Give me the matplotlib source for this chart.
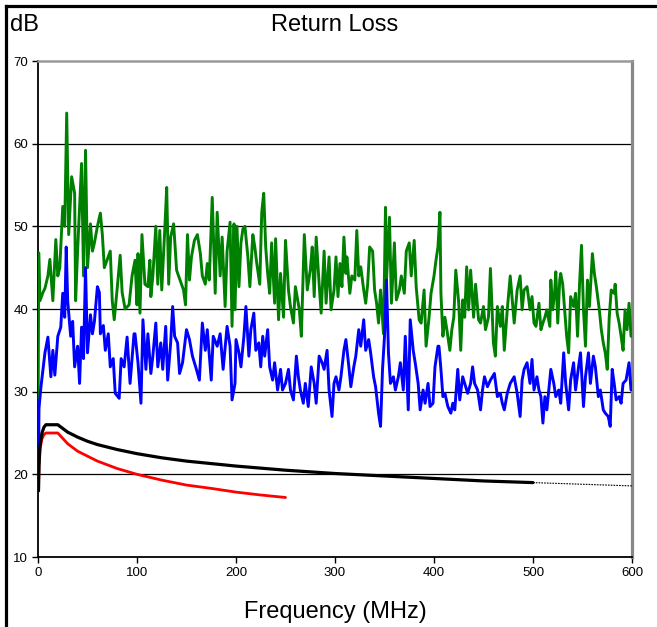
"""Return Loss: dos mediciones ruidosas y dos curvas límite, 0-600 MHz."""

import matplotlib

matplotlib.use("Agg")
import matplotlib.pyplot as plt
from matplotlib.lines import Line2D

plt.rcParams["font.family"] = ["Liberation Sans", "DejaVu Sans"]

# --- medición verde (freq MHz, dB) ---
green_f = [0, 0.7, 2, 5, 7, 10, 12, 15, 18, 20, 22, 25, 27, 29, 31, 34, 37, 38, 40, 44,
           46, 48, 50, 53, 55, 57, 60, 63, 65, 67, 70, 73, 75, 77, 80, 83, 85, 88, 92, 95,
           98, 100, 101, 103, 105, 108, 111, 113, 114, 116, 119, 121, 123, 125, 128, 130,
           132, 134, 137, 140, 142, 145, 147, 149, 151, 153, 155, 158, 161, 164, 166, 169,
           171, 173, 176, 179, 181, 184, 186, 189, 191, 194, 196, 198, 199, 201, 203, 205,
           207, 209, 212, 214, 217, 219, 221, 224, 226, 228, 230, 232, 234, 236, 239, 240,
           243, 245, 248, 250, 253, 255, 258, 260, 264, 266, 269, 272, 275, 277, 279, 281,
           284, 286, 289, 291, 294, 296, 299, 301, 303, 305, 307, 309, 311, 312, 315, 317,
           320, 322, 324, 326, 329, 331, 333, 335, 338, 340, 342, 344, 346, 349, 351, 352,
           355, 357, 360, 362, 365, 367, 370, 372, 375, 377, 380, 382, 385, 387, 390, 392,
           395, 397, 400, 402, 404, 406, 407, 409, 411, 413, 416, 418, 420, 422, 425, 427,
           429, 431, 433, 435, 437, 440, 442, 445, 447, 450, 452, 455, 457, 460, 462, 464,
           467, 469, 471, 474, 477, 479, 481, 484, 487, 489, 491, 494, 497, 499, 501, 503,
           506, 508, 510, 512, 514, 517, 518, 520, 522, 523, 525, 527, 528, 530, 532, 534,
           536, 538, 541, 543, 545, 547, 549, 551, 553, 555, 557, 560, 562, 564, 567, 569,
           571, 573, 575, 577, 579, 582, 583, 585, 587, 589, 591, 593, 595, 597, 599]
green_db = [22, 46.8, 41, 42, 42.5, 44, 46, 41, 48.4, 44, 45, 52.4, 50, 63.7, 49, 56, 54, 41, 47, 57.6,
            44, 59.2, 45, 50.3, 47, 48, 50, 51.6, 49, 45, 46, 47, 41, 38.7, 42.5, 46.5, 42, 40, 40.5, 44,
            45.9, 40.5, 46.7, 39.5, 49, 43, 42.7, 45.9, 41.5, 44, 50, 43, 49.5, 42.3, 49.5, 54.7,
            43, 48.7, 50.3, 44.7, 44, 43, 42.3, 40.5, 49, 43.5, 46.3, 48.3, 49, 46.7, 44, 43,
            45.5, 43.5, 53.5, 41.9, 51.7, 44, 48.7, 40.3, 47, 50.5, 37.9, 50.3, 39.9, 50, 42.7, 48,
            49.7, 50, 46.3, 42.7, 49, 47.5, 45.5, 43, 51.7, 54, 47.5, 44.3, 41.9, 48, 40.7, 48.5,
            38.7, 44.3, 39, 48.3, 42.3, 40.3, 38.3, 42.7, 39.9, 36.7, 49, 42.3, 44.7, 47.5, 41.5, 48.7,
            43, 39.5, 47, 40.7, 46.3, 39.9, 42.3, 46.3, 41.5, 45.5, 42.7, 48.7, 44.3, 46.3, 41.9, 44,
            43.5, 49.5, 44, 45.1, 42.3, 40.7, 43, 47.5, 47, 42.3, 40.7, 38.3, 42.3, 37, 52.3, 43.5,
            51.1, 40.7, 48, 41.1, 42.3, 44, 41.9, 47, 48, 44, 48.3, 42.7, 38.7, 38.3, 42.3, 35.5,
            39, 41.9, 44, 45.9, 47.5, 51.7, 41.9, 36.7, 39, 37.5, 35, 37.5, 39, 44.7, 40.7, 35,
            41.1, 39, 45.1, 39.9, 44.7, 39, 43, 38.7, 38.3, 40.3, 37.5, 39, 44.9, 35.9, 34.3, 40.3,
            37.9, 40.3, 35, 39.9, 44, 41.1, 38.3, 42.3, 44, 39.9, 42.3, 42.7, 39.9, 41.5, 38.3, 37.9,
            40.7, 37.5, 38.3, 39, 39.9, 37.9, 43.5, 39.9, 42.3, 44.5, 38.3, 43.5, 44.3, 43, 39.9, 36.7,
            34.7, 41.5, 40.3, 41.9, 36.7, 43, 47.7, 39.9, 35.5, 43.5, 40.3, 46.7, 44.3, 42.7, 39.9, 37.5,
            35.9, 34.7, 32.7, 39, 42.3, 41.9, 43, 39.5, 38.3, 36.7, 35, 39.9, 37.5, 40.7, 36.7]

# --- medición azul ---
blue_f = [0.5, 1, 3, 7, 10, 13, 15, 17, 20, 23, 25, 27, 28.5, 30, 33, 35, 37, 40, 42, 44,
          46, 48, 50, 53, 55, 57, 60, 62, 63, 66, 68, 71, 73, 76, 78, 82, 84, 87, 90, 93,
          97, 98, 101, 104, 106, 109, 111, 114, 116, 119, 121, 124, 126, 129, 131, 134, 136,
          138, 141, 143, 146, 150, 153, 156, 160, 163, 166, 169, 171, 175, 177, 181, 184, 187,
          191, 194, 196, 199, 200, 203, 205, 208, 210, 213, 215, 218, 220, 223, 225, 227, 229,
          232, 234, 237, 239, 242, 245, 247, 250, 253, 255, 258, 261, 263, 265, 268, 270, 273,
          276, 279, 281, 284, 287, 289, 292, 294, 297, 299, 301, 304, 306, 309, 311, 314, 316,
          319, 321, 324, 326, 329, 331, 334, 336, 339, 341, 344, 346, 348, 350, 352, 354, 356,
          359, 361, 364, 366, 369, 371, 374, 376, 379, 381, 384, 386, 389, 391, 394, 396, 399,
          401, 404, 405, 407, 409, 411, 414, 417, 419, 421, 424, 426, 429, 431, 434, 437, 439,
          441, 444, 447, 449, 451, 454, 457, 459, 461, 464, 467, 469, 471, 474, 477, 479, 481,
          484, 487, 489, 491, 494, 497, 499, 501, 504, 506, 508, 510, 512, 514, 516, 518, 521,
          523, 526, 528, 531, 533, 536, 538, 541, 543, 546, 548, 551, 553, 556, 558, 561, 563,
          566, 568, 571, 573, 576, 578, 580, 582, 584, 587, 589, 591, 594, 597, 599]
blue_db = [21, 28, 30.6, 34.7, 36.6, 31.8, 35, 32, 36.7, 37.8, 41.9, 39, 47.5, 41, 36.7, 38.5, 33, 35.5, 31, 37.8,
           34, 45, 34.7, 39.3, 37, 38.5, 42.7, 42, 37, 38, 35, 37, 33, 34, 29.8, 29.2, 34, 33, 36.6, 31,
           37, 37, 33.5, 28.6, 38.7, 32.7, 37, 32.2, 34.3, 38.3, 33, 35.9, 32.7, 37.9, 31.4, 35.9, 40.3,
           36.7, 35.9, 32.2, 33.5, 37.5, 36.3, 34.3, 32.7, 31.4, 38.3, 35, 37.5, 31.4, 36.7, 35.5, 37, 32.7,
           37.9, 35.5, 29, 31, 36.3, 34.7, 33, 36.7, 40.3, 34.3, 37.5, 39.5, 35, 35.9, 33, 36.7, 34.3,
           37.5, 33, 31.4, 33.5, 30.2, 32.7, 30.2, 31, 32.7, 30.2, 29, 34.3, 31.8, 30.2, 28.6, 31, 28.2,
           33, 31, 28.6, 34.3, 33.5, 32.7, 35, 30.2, 27, 31, 31.8, 30.2, 31.8, 35, 36.3, 33, 30.6,
           33, 34.3, 37.5, 35.5, 38.7, 35, 36.3, 34.7, 31.8, 30.6, 27.4, 25.8, 32.7, 36.7, 43.5, 34.7, 31,
           31.8, 30.2, 31.8, 33.5, 30.2, 36.7, 27.8, 38.7, 35, 33.5, 31, 27.8, 30.2, 28.6, 31, 28.2, 28.6,
           33, 35.5, 35.5, 32.7, 29.4, 29.8, 28.2, 27.4, 28.6, 27.8, 32.7, 29, 31.8, 31, 29.8, 31, 33,
           31, 30.2, 27.8, 30.2, 31.8, 30.6, 31.4, 31.8, 32.2, 29.4, 29.8, 28.6, 27.8, 29.8, 31, 31.4, 31.8,
           29.8, 27, 31.4, 32.7, 33.5, 31, 33.9, 30.2, 31.8, 30.2, 29.4, 26.2, 29.4, 27.8, 30.2, 32.7, 31,
           29.4, 30.2, 28.6, 34.7, 31, 27.8, 31.4, 33.5, 30.2, 33, 34.7, 28.2, 31.8, 34.7, 31, 34.3, 33,
           29.4, 30.2, 27.8, 27.4, 27, 25.8, 32.7, 31, 29, 29.4, 28.6, 31, 31.4, 33.5, 30.2]

# --- límites ---
black_f = [0.5, 1, 2, 4, 6, 8, 20, 30, 40, 50, 60, 80, 100, 125, 150, 175, 200, 250,
           300, 350, 400, 450, 500]
black_db = [18, 21, 23.5, 25, 25.7, 26, 26, 25.1, 24.5, 24.0, 23.6, 23.0, 22.5, 22.0,
            21.6, 21.3, 21.0, 20.5, 20.1, 19.8, 19.5, 19.2, 19.0]
black_ext_f = [500, 550, 600]
black_ext_db = [19.0, 18.8, 18.6]
red_f = [0.5, 1, 2, 4, 6, 8, 20, 30, 40, 50, 60, 80, 100, 125, 150, 175, 200, 225, 250]
red_db = [18, 21, 23, 24.3, 24.8, 25, 25, 23.7, 22.8, 22.2, 21.6, 20.7, 20.0, 19.3,
          18.7, 18.3, 17.85, 17.5, 17.2]

fig = plt.figure(figsize=(6.57, 6.27), dpi=100)
ax = fig.add_axes([38 / 657, 1 - 557 / 627, 594 / 657, 496 / 627])

kw = dict(solid_joinstyle="round", solid_capstyle="round")
ax.plot(green_f, green_db, color="#008000", lw=2.1, zorder=3, **kw)
ax.plot(blue_f, blue_db, color="#0000ff", lw=2.1, zorder=4, **kw)
ax.plot(red_f, red_db, color="#ff0000", lw=2.0, zorder=5, **kw)
ax.plot(black_f, black_db, color="black", lw=2.3, zorder=6, **kw)
ax.plot(black_ext_f, black_ext_db, color="black", lw=0.8, ls=(0, (1.5, 1)), zorder=6)

ax.set_xlim(0, 600)
ax.set_ylim(10, 70)
ax.set_xticks(range(0, 601, 100))
ax.set_yticks(range(10, 71, 10))
ax.tick_params(labelsize=9.5, length=4, width=1, direction="out", pad=3)
for yv in range(20, 70, 10):
    ax.axhline(yv, color="black", lw=0.9, zorder=1)

for side in ("left", "bottom"):
    ax.spines[side].set_color("black")
    ax.spines[side].set_linewidth(1.3)
ax.spines["top"].set_color("#999999")
ax.spines["top"].set_linewidth(1.8)
ax.spines["right"].set_color("#888888")
ax.spines["right"].set_linewidth(2.3)

fig.text(335 / 657, 1 - 25 / 627, "Return Loss", ha="center", va="center", fontsize=17)
fig.text(10 / 657, 1 - 25 / 627, "dB", ha="left", va="center", fontsize=17)
fig.text(335 / 657, 1 - 612 / 627, "Frequency (MHz)", ha="center", va="center", fontsize=17)

# marco exterior (solo izquierda y arriba)
fig.add_artist(Line2D([5.5 / 657, 5.5 / 657], [0, 1 - 5.5 / 627], color="black", lw=2.3,
                      transform=fig.transFigure, solid_capstyle="projecting"))
fig.add_artist(Line2D([5.5 / 657, 1], [1 - 5.5 / 627, 1 - 5.5 / 627], color="black", lw=2.3,
                      transform=fig.transFigure, solid_capstyle="projecting"))

fig.savefig("out.png", dpi=100)
